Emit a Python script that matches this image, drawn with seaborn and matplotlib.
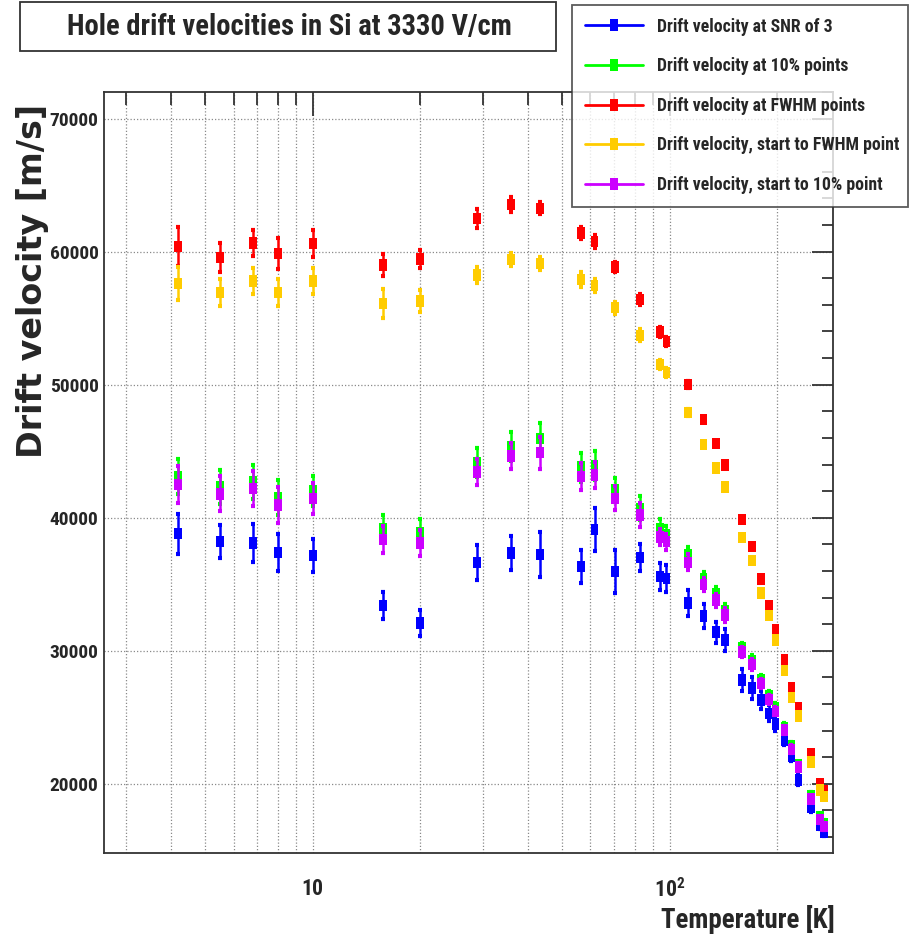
import numpy as np
import pandas as pd
import seaborn as sns
import matplotlib
matplotlib.use("Agg")
import matplotlib.pyplot as plt
from matplotlib.path import Path
from matplotlib.lines import Line2D
from matplotlib.patches import Rectangle
from matplotlib.ticker import FixedLocator, FixedFormatter, AutoMinorLocator, NullFormatter
from matplotlib import font_manager

# ---------------- data ----------------
temperature = [4.2, 5.5, 6.8, 8.0, 10.0, 15.7, 20.0, 28.9, 35.9, 43.4, 56.4, 61.6, 70.2, 82.4,
               93.8, 98.0, 112.5, 124.5, 134.7, 142.8, 159.6, 169.9, 180.0, 189.6, 198.0,
               209.8, 219.5, 229.6, 249.5, 263.6, 270.5]

v_snr3 = [38800, 38200, 38100, 37400, 37150, 33400, 32100, 36650, 37350, 37250, 36350, 39100,
          35950, 37000, 35600, 35450, 33600, 32600, 31400, 30800, 27800, 27200, 26300, 25300,
          24500, 23300, 22100, 20300, 18200, 16850, 16350]
e_snr3 = [1500, 1250, 1400, 1400, 1250, 1000, 1000, 1300, 1300, 1700, 1250, 1600, 1600, 1000,
          1000, 1000, 1000, 900, 800, 800, 800, 800, 700, 600, 500, 400, 400, 400, 300, 250, 250]

v_10pct = [43100, 42300, 42700, 41500, 42000, 39200, 38900, 44150, 45350, 45950, 43800, 43900,
           42100, 40700, 39200, 38700, 37200, 35400, 34300, 33000, 30200, 29250, 27800, 26600,
           25750, 24250, 22850, 21400, 19100, 17500, 17000]
e_10pct = [1300, 1300, 1300, 1300, 1150, 1000, 1000, 1100, 1100, 1200, 1100, 1100, 900, 900,
           700, 700, 600, 500, 500, 500, 400, 400, 350, 350, 300, 300, 300, 250, 250, 250, 250]

v_fwhm = [60400, 59550, 60650, 59850, 60600, 59000, 59450, 62500, 63550, 63250, 61400, 60750,
          58850, 56400, 53950, 53250, 50000, 47400, 45600, 43950, 39850, 37850, 35400, 33400,
          31600, 29300, 27200, 25700, 22250, 20000, 19500]
e_fwhm = [1450, 1100, 1000, 1150, 1000, 830, 700, 700, 550, 450, 450, 500, 400, 400, 350, 350,
          250, 200, 200, 200, 200, 200, 200, 200, 200, 200, 200, 200, 200, 200, 200]

v_start_fwhm = [57600, 56950, 57800, 56950, 57800, 56100, 56300, 58250, 59400, 59100, 57900,
                57450, 55800, 53700, 51500, 50900, 47900, 45500, 43750, 42300, 38500, 36800,
                34350, 32650, 30800, 28500, 26500, 25100, 21650, 19550, 19050]
e_start_fwhm = [1250, 1000, 1000, 1000, 950, 1100, 850, 600, 500, 500, 550, 500, 450, 450, 350,
                350, 250, 200, 200, 200, 200, 200, 200, 200, 200, 200, 200, 200, 200, 200, 200]

v_start_10pct = [42500, 41800, 42200, 40950, 41450, 38350, 38100, 43450, 44650, 44900, 43100,
                 43200, 41450, 40200, 38550, 38200, 36650, 35000, 33800, 32700, 29900, 28950,
                 27550, 26350, 25450, 24050, 22600, 21250, 18850, 17300, 16800]
e_start_10pct = [1400, 1300, 1300, 1350, 1150, 1000, 1000, 1000, 1000, 1200, 1000, 1000, 900,
                 900, 600, 600, 600, 500, 500, 500, 400, 400, 350, 350, 300, 300, 300, 250, 250,
                 250, 250]

series_labels = ["Drift velocity at SNR of 3",
                 "Drift velocity at 10% points",
                 "Drift velocity at FWHM points",
                 "Drift velocity, start to FWHM point",
                 "Drift velocity, start to 10% point"]
series_colors = ["#0000FF", "#00FF00", "#FF0000", "#FFCC00", "#CC00FF"]

x_major_ticks = [10, 100]
x_major_labels = ["10", r"$\mathregular{10^{2}}$"]
x_minor_ticks = [3, 4, 5, 6, 7, 8, 9, 20, 30, 40, 50, 60, 70, 80, 90, 200]
y_major_ticks = [20000, 30000, 40000, 50000, 60000, 70000]

# ---------------- fonts / style ----------------
fl = font_manager.fontManager.ttflist
names = {f.name for f in fl}
pref = ["Liberation Sans Narrow", "Arial Narrow", "Nimbus Sans Narrow", "Roboto Condensed",
        "Noto Sans Condensed", "Open Sans Condensed", "DejaVu Sans Condensed"]
NARROW = None
for p in pref:
    if p in names:
        NARROW = p
        break
if NARROW is None:
    cands = [f.name for f in fl if ("Narrow" in f.name or "Condensed" in f.name)
             and "CJK" not in f.name]
    NARROW = cands[0] if cands else "Liberation Sans"

sns.set_theme(style="white")
plt.rcParams["font.family"] = [NARROW, "Liberation Sans", "DejaVu Sans"]
plt.rcParams["font.weight"] = "bold"
plt.rcParams["mathtext.fontset"] = "custom"
plt.rcParams["mathtext.rm"] = f"{NARROW}:bold"
plt.rcParams["mathtext.bf"] = f"{NARROW}:bold"
plt.rcParams["mathtext.it"] = f"{NARROW}:bold"
plt.rcParams["mathtext.default"] = "rm"

W, H = 910, 946
fig = plt.figure(figsize=(W / 100, H / 100), dpi=100)
fig.patch.set_facecolor("white")
renderer = fig.canvas.get_renderer()


def fit_size(text, target_px, family=None, base=20.0):
    kw = {"fontsize": base, "fontweight": "bold"}
    if family:
        kw["family"] = family
    t = fig.text(0, 0, text, **kw)
    w = t.get_window_extent(renderer).width
    t.remove()
    return base * target_px / w


title_fs = fit_size("Hole drift velocities in Si at 3330 V/cm", 442)
legend_fs = fit_size("Drift velocity at SNR of 3", 175)
ytick_fs = fit_size("70000", 49)
xtick_fs = fit_size("10", 22)
xlabel_fs = fit_size("Temperature [K]", 173)
ylabel_fs = fit_size("Drift velocity [m/s]", 355, family=["DejaVu Sans"])

ax = fig.add_axes([104 / W, 1 - 853 / H, (833 - 104) / W, (853 - 92) / H])
ax.set_facecolor("white")

rect = Path([(-0.34, -0.5), (0.34, -0.5), (0.34, 0.5), (-0.34, 0.5), (-0.34, -0.5)],
            [Path.MOVETO, Path.LINETO, Path.LINETO, Path.LINETO, Path.CLOSEPOLY])

values = [v_snr3, v_10pct, v_fwhm, v_start_fwhm, v_start_10pct]
errors = [e_snr3, e_10pct, e_fwhm, e_start_fwhm, e_start_10pct]

for i, (lab, col, v, e) in enumerate(zip(series_labels, series_colors, values, errors)):
    df = pd.DataFrame({"T": temperature, "v": v, "e": e})
    ax.errorbar(df["T"], df["v"], yerr=df["e"], fmt="none", ecolor=col, elinewidth=1.8,
                capsize=1.6, capthick=3.0, zorder=3 + 2 * i)
    sns.scatterplot(data=df, x="T", y="v", ax=ax, marker=rect, color=col, s=68,
                    edgecolor="none", linewidth=0, zorder=4 + 2 * i, legend=False)

ax.set_xscale("log")
ax.set_xlim(2.6, 287)
ax.set_ylim(14800, 72000)
ax.set_xlabel("")
ax.set_ylabel("")

ax.xaxis.set_major_locator(FixedLocator(x_major_ticks))
ax.xaxis.set_major_formatter(FixedFormatter(x_major_labels))
ax.xaxis.set_minor_locator(FixedLocator(x_minor_ticks))
ax.xaxis.set_minor_formatter(NullFormatter())
ax.yaxis.set_major_locator(FixedLocator(y_major_ticks))
ax.yaxis.set_minor_locator(AutoMinorLocator(5))

grid_kw = dict(color="#8a8a8a", linestyle=(0, (1, 1.6)), linewidth=0.9)
ax.grid(True, axis="x", which="both", **grid_kw)
ax.grid(True, axis="y", which="major", **grid_kw)
ax.set_axisbelow(True)

ax.tick_params(which="both", direction="in", top=True, right=True, color="#333333", width=1.3)
ax.tick_params(axis="x", which="major", length=17, labelsize=xtick_fs, pad=18)
ax.tick_params(axis="x", which="minor", length=9)
ax.tick_params(axis="y", which="major", length=15, labelsize=ytick_fs, pad=4)
ax.tick_params(axis="y", which="minor", length=8)
for s in ax.spines.values():
    s.set_linewidth(1.3)
    s.set_color("#333333")

# axis titles
fig.text(835 / W, 1 - 919 / H, "Temperature [K]", ha="right", va="center", fontsize=xlabel_fs,
         fontweight="bold")
fig.text(33 / W, 1 - 281 / H, "Drift velocity [m/s]", rotation=90, ha="center", va="center",
         fontsize=ylabel_fs, fontweight="bold", family=["DejaVu Sans"])

# title box
fig.add_artist(Rectangle((20 / W, 1 - 51 / H), (556 - 20) / W, (51 - 2) / H,
                         transform=fig.transFigure, facecolor="white", edgecolor="#333333",
                         linewidth=1.3))
fig.text(289 / W, 1 - 27 / H, "Hole drift velocities in Si at 3330 V/cm", ha="center",
         va="center", fontsize=title_fs, fontweight="bold")

# legend
handles = [Line2D([0], [0], color=c, lw=2.0, marker=rect, markersize=9, markeredgewidth=0)
           for c in series_colors]
leg = fig.legend(handles, series_labels, loc="upper left",
                 bbox_to_anchor=(572 / W, 1 - 5 / H, (908 - 572) / W, 0.0001), mode="expand",
                 borderaxespad=0, fancybox=False, frameon=True, edgecolor="#333333",
                 prop={"weight": "bold", "size": legend_fs}, handlelength=3.3,
                 handletextpad=0.8, labelspacing=1.22, borderpad=0.72)
leg.get_frame().set_linewidth(1.3)
leg.set_zorder(10)

fig.savefig("out.png", dpi=100, facecolor="white")
